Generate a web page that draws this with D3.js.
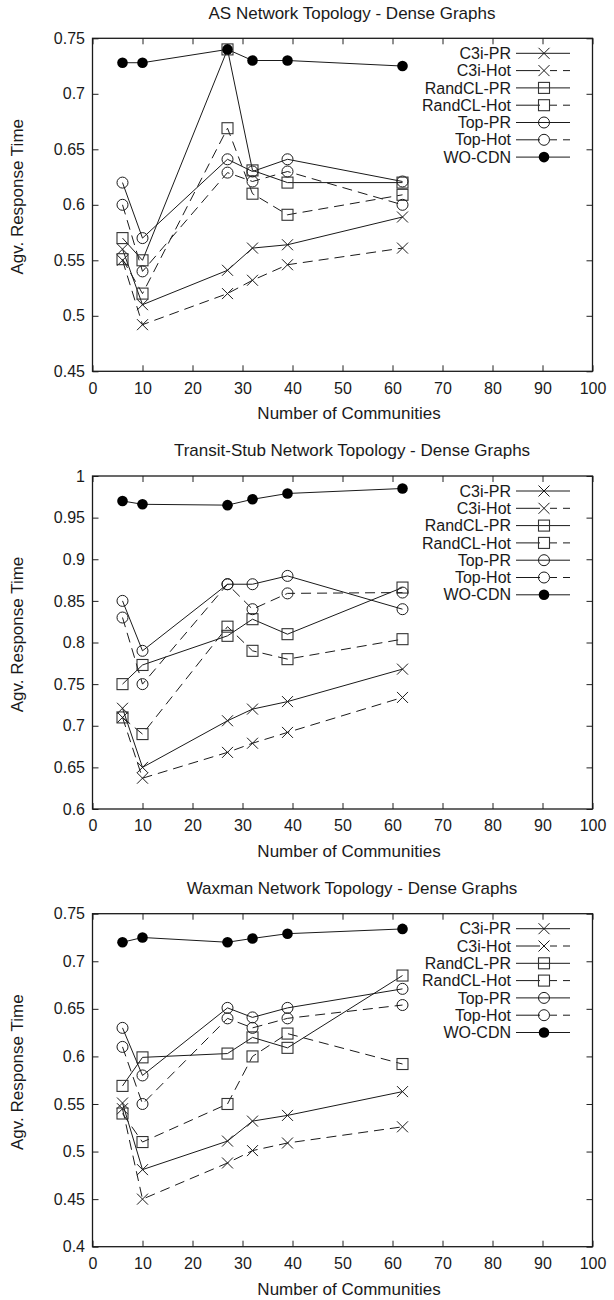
<!DOCTYPE html>
<html>
<head>
<meta charset="utf-8">
<script src="https://cdn.jsdelivr.net/npm/d3@7"></script>
<style>
  body { margin: 0; background: #fff; }
  svg { display: block; font-family: "Liberation Sans", Arial, sans-serif; }
  .tick text { font-size: 16px; fill: #1a1a1a; }
  .tick line { stroke: #222; }
</style>
</head>
<body>
<div id="chart"></div>
<script>
// Data
const xValues = [6, 10, 27, 32, 39, 62]
const seriesNames = ['C3i-PR', 'C3i-Hot', 'RandCL-PR', 'RandCL-Hot', 'Top-PR', 'Top-Hot', 'WO-CDN']

const panelTitles = [
  'AS Network Topology - Dense Graphs',
  'Transit-Stub Network Topology - Dense Graphs',
  'Waxman Network Topology - Dense Graphs'
]

// one row per series, same order as seriesNames
const asValues = [
  [0.560, 0.510, 0.541, 0.561, 0.564, 0.589],
  [0.550, 0.492, 0.520, 0.532, 0.546, 0.561],
  [0.570, 0.550, 0.740, 0.631, 0.620, 0.620],
  [0.551, 0.520, 0.669, 0.610, 0.591, 0.609],
  [0.620, 0.570, 0.641, 0.630, 0.641, 0.621],
  [0.600, 0.540, 0.629, 0.621, 0.630, 0.600],
  [0.728, 0.728, 0.740, 0.730, 0.730, 0.725]
]

const transitValues = [
  [0.721, 0.650, 0.706, 0.720, 0.729, 0.768],
  [0.710, 0.637, 0.668, 0.679, 0.692, 0.734],
  [0.750, 0.773, 0.808, 0.828, 0.810, 0.866],
  [0.710, 0.690, 0.819, 0.790, 0.780, 0.804],
  [0.850, 0.790, 0.870, 0.870, 0.880, 0.840],
  [0.830, 0.750, 0.870, 0.840, 0.859, 0.860],
  [0.970, 0.966, 0.965, 0.972, 0.979, 0.985]
]

const waxmanValues = [
  [0.551, 0.481, 0.511, 0.532, 0.538, 0.563],
  [0.545, 0.450, 0.488, 0.501, 0.509, 0.526],
  [0.569, 0.599, 0.603, 0.620, 0.609, 0.685],
  [0.540, 0.510, 0.550, 0.600, 0.624, 0.592],
  [0.630, 0.580, 0.651, 0.641, 0.651, 0.671],
  [0.610, 0.550, 0.640, 0.630, 0.640, 0.654],
  [0.720, 0.725, 0.720, 0.724, 0.729, 0.734]
]

const xTicks = [0, 10, 20, 30, 40, 50, 60, 70, 80, 90, 100]
const asTicks = [0.45, 0.5, 0.55, 0.6, 0.65, 0.7, 0.75]
const transitTicks = [0.6, 0.65, 0.7, 0.75, 0.8, 0.85, 0.9, 0.95, 1]
const waxmanTicks = [0.4, 0.45, 0.5, 0.55, 0.6, 0.65, 0.7, 0.75]

const panelValues = [asValues, transitValues, waxmanValues]
const panelTicks = [asTicks, transitTicks, waxmanTicks]

// Styles per series (marker, dashed)
const markers = ['x', 'x', 'square', 'square', 'circle', 'circle', 'dot']
const dashed = [false, true, false, true, false, true, false]

// Dimensions
const width = 614
const height = 1300
const plotLeft = 92.5
const plotWidth = 500
const plotHeight = 333
const panelTops = [38.3, 476, 913.7]
const ink = '#1a1a1a'

const svg = d3.select('#chart')
  .append('svg')
  .attr('width', width)
  .attr('height', height)

svg.append('rect')
  .attr('width', width)
  .attr('height', height)
  .attr('fill', '#fff')

function drawMarker (g, type, cx, cy) {
  const s = 5.5
  if (type === 'x') {
    g.append('path')
      .attr('d', `M${cx - s},${cy - s}L${cx + s},${cy + s}M${cx - s},${cy + s}L${cx + s},${cy - s}`)
      .attr('stroke', ink)
      .attr('stroke-width', 1)
      .attr('fill', 'none')
  } else if (type === 'square') {
    g.append('rect')
      .attr('x', cx - s)
      .attr('y', cy - s)
      .attr('width', 2 * s)
      .attr('height', 2 * s)
      .attr('stroke', '#333')
      .attr('stroke-width', 1.1)
      .attr('fill', 'none')
  } else if (type === 'circle') {
    g.append('circle')
      .attr('cx', cx)
      .attr('cy', cy)
      .attr('r', s)
      .attr('stroke', ink)
      .attr('stroke-width', 1)
      .attr('fill', 'none')
  } else {
    g.append('circle')
      .attr('cx', cx)
      .attr('cy', cy)
      .attr('r', 5.3)
      .attr('fill', '#000')
  }
}

panelTops.forEach((top, p) => {
  const values = panelValues[p]
  const ticks = panelTicks[p]

  const g = svg.append('g')
    .attr('transform', `translate(${plotLeft}, ${top})`)

  const x = d3.scaleLinear().domain([0, 100]).range([0, plotWidth])
  const y = d3.scaleLinear().domain(d3.extent(ticks)).range([plotHeight, 0])

  // Bottom axis with labels, ticks pointing inward
  const bottom = g.append('g')
    .attr('transform', `translate(0, ${plotHeight})`)
    .call(d3.axisBottom(x).tickValues(xTicks).tickSize(-6).tickSizeOuter(0).tickPadding(11))
  bottom.select('.domain').remove()

  const topAxis = g.append('g')
    .call(d3.axisTop(x).tickValues(xTicks).tickSize(-6).tickSizeOuter(0).tickFormat(''))
  topAxis.select('.domain').remove()

  const left = g.append('g')
    .call(d3.axisLeft(y).tickValues(ticks).tickSize(-6).tickSizeOuter(0).tickPadding(7.5).tickFormat(d3.format('~g')))
  left.select('.domain').remove()

  const right = g.append('g')
    .attr('transform', `translate(${plotWidth}, 0)`)
    .call(d3.axisRight(y).tickValues(ticks).tickSize(-6).tickSizeOuter(0).tickFormat(''))
  right.select('.domain').remove()

  // Frame
  g.append('rect')
    .attr('width', plotWidth)
    .attr('height', plotHeight)
    .attr('fill', 'none')
    .attr('stroke', ink)
    .attr('stroke-width', 1.3)

  // Title and axis labels
  svg.append('text')
    .attr('x', 352)
    .attr('y', top - 25.6)
    .attr('dy', '0.35em')
    .attr('text-anchor', 'middle')
    .attr('font-size', 17)
    .attr('fill', ink)
    .text(panelTitles[p])

  svg.append('text')
    .attr('x', 349)
    .attr('y', top + plotHeight + 42)
    .attr('dy', '0.35em')
    .attr('text-anchor', 'middle')
    .attr('font-size', 17)
    .attr('fill', ink)
    .text('Number of Communities')

  svg.append('text')
    .attr('transform', `translate(17, ${top + plotHeight / 2 - 8}) rotate(-90)`)
    .attr('dy', '0.35em')
    .attr('text-anchor', 'middle')
    .attr('font-size', 17)
    .attr('fill', ink)
    .text('Agv. Response Time')

  // Series lines
  const line = d3.line()
    .x((d, i) => x(xValues[i]))
    .y(d => y(d))

  values.forEach((row, s) => {
    g.append('path')
      .datum(row)
      .attr('fill', 'none')
      .attr('stroke', ink)
      .attr('stroke-width', 1)
      .attr('stroke-dasharray', dashed[s] ? '10,6' : null)
      .attr('d', line)
  })

  // Markers
  values.forEach((row, s) => {
    row.forEach((v, i) => drawMarker(g, markers[s], x(xValues[i]), y(v)))
  })

  // Legend
  const legend = svg.append('g')
  seriesNames.forEach((name, s) => {
    const ly = top + 15 + s * 17.3
    legend.append('text')
      .attr('x', 511)
      .attr('y', ly)
      .attr('dy', '0.35em')
      .attr('text-anchor', 'end')
      .attr('font-size', 16)
      .attr('fill', ink)
      .text(name)
    legend.append('line')
      .attr('x1', 516)
      .attr('x2', 570)
      .attr('y1', ly)
      .attr('y2', ly)
      .attr('stroke', ink)
      .attr('stroke-width', 1)
      .attr('stroke-dasharray', dashed[s] ? '24,10,7,6,7,100' : null)
    drawMarker(legend, markers[s], 544, ly)
  })
})
</script>
</body>
</html>
